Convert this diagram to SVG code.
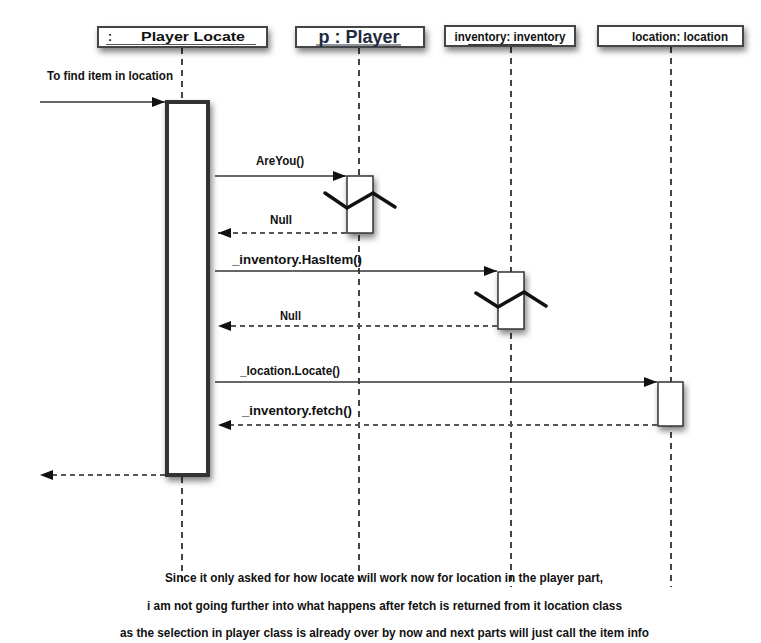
<svg xmlns="http://www.w3.org/2000/svg" width="761" height="643" viewBox="0 0 761 643">
<style>
  .t{font-family:"Liberation Sans",Arial,sans-serif;font-weight:bold;font-size:12px;fill:#111}
  .hdr{fill:#fff;stroke:#444;stroke-width:2}
  .life{stroke:#444;stroke-width:2;stroke-dasharray:6 5;fill:none}
  .msg{stroke:#333;stroke-width:1.5;fill:none}
  .ret{stroke:#555;stroke-width:2;stroke-dasharray:5 4;fill:none}
  .act{fill:#fff;stroke:#333;stroke-width:1.5}
  .zig{fill:none;stroke:#111;stroke-width:3.5;stroke-linecap:round;stroke-linejoin:miter}
</style>
<defs>
  <filter id="sh" x="-20%" y="-40%" width="150%" height="200%">
    <feDropShadow dx="2" dy="4" stdDeviation="3" flood-color="#000" flood-opacity="0.5"/>
  </filter>
  <marker id="ah" markerWidth="13" markerHeight="10" refX="13" refY="5" orient="auto" markerUnits="userSpaceOnUse">
    <path d="M0,0 L13,5 L0,10 Z" fill="#111"/>
  </marker>
</defs>
<rect width="761" height="643" fill="#fff"/>

<g id="lifelines">
  <line class="life" x1="182" y1="48" x2="182" y2="101"/>
  <line class="life" x1="182" y1="477" x2="182" y2="587"/>
  <line class="life" x1="359" y1="48" x2="359" y2="587"/>
  <line class="life" x1="511" y1="47" x2="511" y2="587"/>
  <line class="life" x1="671" y1="47" x2="671" y2="587"/>
</g>

<g id="n-playerlocate">
  <rect class="hdr" x="98" y="27" width="169" height="20" filter="url(#sh)"/>
  <text class="t" x="108" y="41">:</text>
  <text class="t" x="141" y="41" textLength="104" lengthAdjust="spacingAndGlyphs">Player Locate</text>
  <line x1="106" y1="44.5" x2="256" y2="44.5" stroke="#555" stroke-width="1.2"/>
</g>
<g id="n-player">
  <rect class="hdr" x="296" y="27" width="128" height="20" filter="url(#sh)"/>
  <text class="t" x="359" y="43" text-anchor="middle" style="font-size:18px;fill:#1f2a40">p : Player</text>
  <line x1="316" y1="45" x2="401" y2="45" stroke="#1f2a40" stroke-width="1.2"/>
</g>
<g id="n-inventory">
  <rect class="hdr" x="445" y="26" width="130" height="20" filter="url(#sh)"/>
  <text class="t" x="510" y="41" text-anchor="middle" textLength="111" lengthAdjust="spacingAndGlyphs">inventory: inventory</text>
  <line x1="468" y1="44.5" x2="552" y2="44.5" stroke="#333" stroke-width="1.2"/>
</g>
<g id="n-location">
  <rect class="hdr" x="598" y="26" width="145" height="20" filter="url(#sh)"/>
  <text class="t" x="680" y="41" text-anchor="middle" textLength="96" lengthAdjust="spacingAndGlyphs">location: location</text>
</g>

<g id="activations">
  <rect x="167" y="102" width="41" height="373" fill="#fff" stroke="#333" stroke-width="4" filter="url(#sh)"/>
  <rect class="act" x="347" y="176" width="26" height="57" filter="url(#sh)"/>
  <rect class="act" x="498" y="272" width="26" height="57" filter="url(#sh)"/>
  <rect class="act" x="658" y="382" width="25" height="44" filter="url(#sh)"/>
  <polyline class="zig" points="325,193 347,208 373,193 395,207"/>
  <polyline class="zig" points="476,293 498,307 524,292 546,306"/>
</g>

<g id="connectors">
  <line class="msg" x1="40" y1="102" x2="165" y2="102" marker-end="url(#ah)"/>
  <line class="msg" x1="215" y1="176" x2="346" y2="176" marker-end="url(#ah)"/>
  <line class="ret" x1="346" y1="233" x2="218" y2="233" marker-end="url(#ah)"/>
  <line class="msg" x1="215" y1="271" x2="497" y2="271" marker-end="url(#ah)"/>
  <line class="ret" x1="497" y1="326" x2="218" y2="326" marker-end="url(#ah)"/>
  <line class="msg" x1="215" y1="382" x2="657" y2="382" marker-end="url(#ah)"/>
  <line class="ret" x1="657" y1="425" x2="218" y2="425" marker-end="url(#ah)"/>
  <line class="ret" x1="165" y1="475" x2="40" y2="475" marker-end="url(#ah)"/>
</g>

<g id="labels">
  <text class="t" x="47" y="80" textLength="126" lengthAdjust="spacingAndGlyphs">To find item in location</text>
  <text class="t" x="256" y="165" textLength="48" lengthAdjust="spacingAndGlyphs">AreYou()</text>
  <text class="t" x="270" y="224" textLength="22" lengthAdjust="spacingAndGlyphs">Null</text>
  <text class="t" x="232" y="264" textLength="130" lengthAdjust="spacingAndGlyphs">_inventory.HasItem()</text>
  <text class="t" x="280" y="320" textLength="21" lengthAdjust="spacingAndGlyphs">Null</text>
  <text class="t" x="240" y="375" textLength="100" lengthAdjust="spacingAndGlyphs">_location.Locate()</text>
  <text class="t" x="242" y="415" textLength="110" lengthAdjust="spacingAndGlyphs">_inventory.fetch()</text>
  <text class="t" x="165" y="582" textLength="438" lengthAdjust="spacingAndGlyphs">Since it only asked for how locate will work now for location in the player part,</text>
  <text class="t" x="147" y="610" textLength="475" lengthAdjust="spacingAndGlyphs">i am not going further into what happens after fetch is returned from it location class</text>
  <text class="t" x="120" y="637" textLength="529" lengthAdjust="spacingAndGlyphs">as the selection in player class is already over by now and next parts will just call the item info</text>
</g>
</svg>
